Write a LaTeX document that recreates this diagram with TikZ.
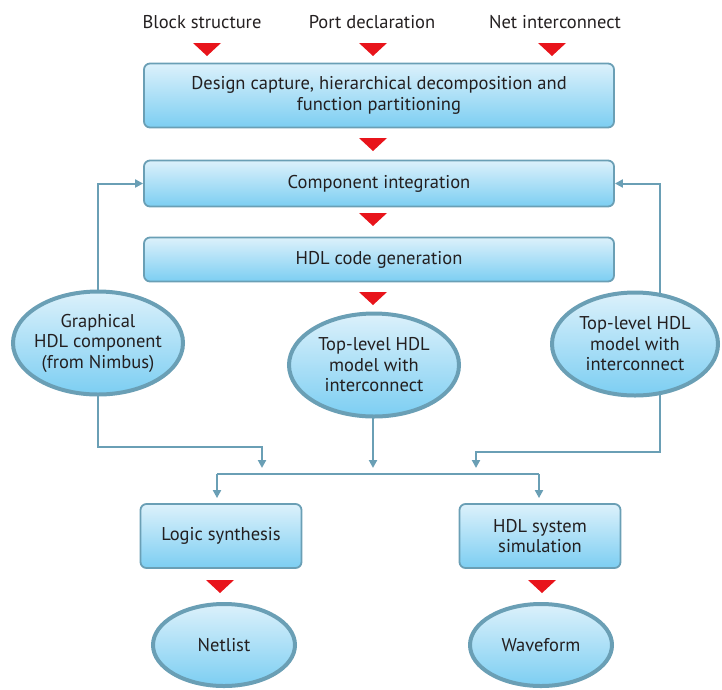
\documentclass[tikz,border=0pt]{standalone}
\usepackage{fontspec}
\setmainfont{PT Sans}
\usetikzlibrary{shapes.geometric,arrows.meta,backgrounds,calc}
\definecolor{edge}{HTML}{6A9FB5}
\definecolor{ftop}{HTML}{DCF1FB}
\definecolor{fbot}{HTML}{7CCEF2}
\definecolor{tri}{HTML}{E8141B}
\definecolor{ink}{HTML}{231F20}
\begin{document}
\begin{tikzpicture}[x=1pt,y=-1pt,
  txt/.style={font=\fontsize{18.5}{20.5}\selectfont, text=ink},
  box/.style={txt, draw=edge, line width=1.8pt, rounded corners=6pt, top color=ftop, bottom color=fbot, align=center, inner sep=0pt},
  oval/.style={txt, ellipse, draw=edge, line width=4pt, top color=ftop, bottom color=fbot, align=center, inner sep=0pt, inner xsep=-15pt},
  conn/.style={draw=edge, line width=2pt},
  arr/.style={conn, -{Triangle[width=8pt,length=8pt]}},
  redtri/.style={fill=tri}
]
\useasboundingbox (0,0) rectangle (722,689);

% labels
\node[txt] (l1) at (202,22) {Block structure};
\node[txt] (l2) at (372,22) {Port declaration};
\node[txt] (l3) at (555,22) {Net interconnect};

% boxes
\node[box, minimum width=470pt, minimum height=64pt] (design) at (379,95.5)
  {Design capture, hierarchical decomposition and\\function partitioning};
\node[box, minimum width=470pt, minimum height=46pt] (integ) at (379,183.5) {Component integration};
\node[box, minimum width=470pt, minimum height=44pt] (hdl) at (379,259.5) {HDL code generation};

% ellipses
\node[oval, minimum width=170pt, minimum height=103pt] (graph) at (98,343)
  {Graphical\\HDL component\\(from Nimbus)};
\node[oval, minimum width=170pt, minimum height=103pt] (topm) at (374,365)
  {Top-level HDL\\model with\\interconnect};
\node[oval, minimum width=166pt, minimum height=103pt] (topr) at (635,344)
  {Top-level HDL\\model with\\interconnect};

% bottom boxes
\node[box, minimum width=161pt, minimum height=64pt] (logic) at (221,536) {Logic synthesis};
\node[box, minimum width=161pt, minimum height=64pt] (sim) at (540,536) {HDL system\\simulation};

% bottom ellipses
\node[oval, minimum width=142pt, minimum height=82pt] (net) at (224,645) {Netlist};
\node[oval, minimum width=142pt, minimum height=82pt] (wave) at (541,645) {Waveform};

% red triangles
\foreach \x/\y in {207/43, 373/43, 552/43, 373/138, 373/213, 373/292, 220/580, 542/580}
  \fill[redtri] (\x-14,\y) -- (\x+14,\y) -- (\x,\y+13) -- cycle;

% connector coordinates
\coordinate (rx) at (660,344);
\coordinate (el) at (262,447);
\coordinate (tl) at (262,468);
\coordinate (er) at (476,452);
\coordinate (tr) at (476,468);
\coordinate (tm) at (373,468);
\coordinate (bl) at (217,474);
\coordinate (br) at (539,474);

\begin{pgfonlayer}{background}
  \draw[arr] (graph.center) |- (integ.west);
  \draw[arr] (rx) |- (integ.east);
  \draw[arr] (graph.center) |- (el) -- (tl);
  \draw[arr] (rx) |- (er) -- (tr);
  \draw[arr] (tm |- topm.center) -- (tm);
\end{pgfonlayer}
\draw[conn] (bl) -- (br);
\draw[arr, shorten >=5pt] (bl) -- (bl |- logic.north);
\draw[arr, shorten >=5pt] (br) -- (br |- sim.north);
\end{tikzpicture}
\end{document}
